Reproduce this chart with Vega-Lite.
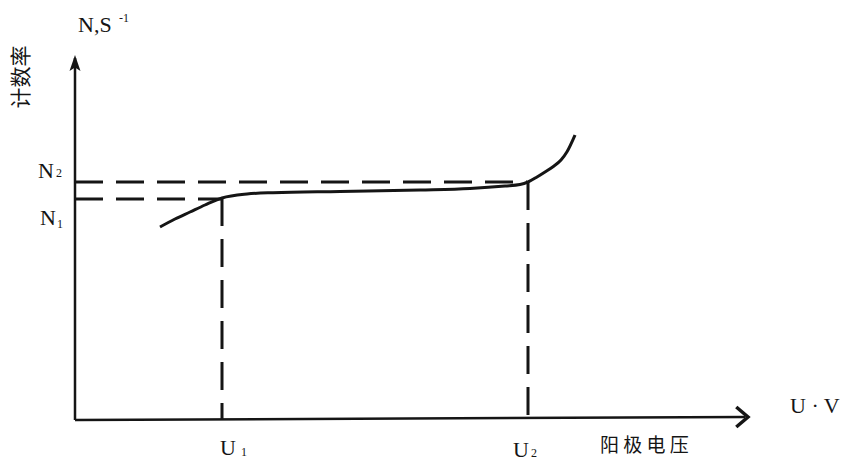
{
  "$schema": "https://vega.github.io/schema/vega-lite/v6.json",
  "width": 675,
  "height": 365,
  "autosize": {"type": "none"},
  "padding": {"left": 75, "top": 55, "right": 100, "bottom": 48},
  "background": "white",
  "config": {"view": {"stroke": null}},
  "datasets": {
    "curve": [
      {"u": 85, "n": 193}, {"u": 100, "n": 201}, {"u": 115, "n": 208},
      {"u": 130, "n": 215}, {"u": 147, "n": 222}, {"u": 172, "n": 226},
      {"u": 198, "n": 227.3}, {"u": 265, "n": 228.5}, {"u": 345, "n": 230},
      {"u": 395, "n": 231.5}, {"u": 430, "n": 234}, {"u": 445, "n": 235.5},
      {"u": 453, "n": 238}, {"u": 462, "n": 243}, {"u": 470, "n": 248},
      {"u": 478, "n": 253.3}, {"u": 486, "n": 260}, {"u": 492, "n": 268.3},
      {"u": 500, "n": 285}
    ],
    "axes": [
      {"x": 0, "y": 0, "x2": 0, "y2": 362},
      {"x": 0, "y": 0, "x2": 670, "y2": 3}
    ],
    "guides": [
      {"x": 0, "y": 238, "x2": 452, "y2": 238},
      {"x": 0, "y": 221, "x2": 147, "y2": 221},
      {"x": 147, "y": 222, "x2": 147, "y2": 0.5},
      {"x": 453, "y": 238, "x2": 453, "y2": 1.5}
    ],
    "yArrow": [{"x": 0, "y": 355}],
    "xArrow": [{"x": 673, "y": 3}],
    "labels": [
      {"t": "N", "x": -37, "y": 242},
      {"t": "N", "x": -35, "y": 195},
      {"t": "U", "x": 145, "y": -35},
      {"t": "U", "x": 438, "y": -37},
      {"t": "U · V", "x": 715, "y": 7},
      {"t": "N,S", "x": 3, "y": 388}
    ],
    "subs": [
      {"t": "2", "x": -19, "y": 243},
      {"t": "1", "x": -18, "y": 192},
      {"t": "1", "x": 166, "y": -36},
      {"t": "2", "x": 456, "y": -37},
      {"t": "-1", "x": 44, "y": 398}
    ],
    "xTitle": [{"t": "阳 极 电 压", "x": 525, "y": -32}],
    "yTitle": [{"t": "计数率", "x": -53, "y": 343}]
  },
  "data": {"name": "curve"},
  "layer": [
    {
      "data": {"name": "axes"},
      "mark": {"type": "rule", "color": "#151515", "strokeWidth": 2.5},
      "encoding": {
        "x": {"field": "x", "type": "quantitative", "scale": {"domain": [0, 675], "nice": false, "zero": false}, "axis": null},
        "y": {"field": "y", "type": "quantitative", "scale": {"domain": [0, 365], "nice": false, "zero": false}, "axis": null},
        "x2": {"field": "x2"},
        "y2": {"field": "y2"}
      }
    },
    {
      "data": {"name": "guides"},
      "mark": {"type": "rule", "color": "#151515", "strokeWidth": 3, "strokeDash": [28, 13]},
      "encoding": {
        "x": {"field": "x", "type": "quantitative"},
        "y": {"field": "y", "type": "quantitative"},
        "x2": {"field": "x2"},
        "y2": {"field": "y2"}
      }
    },
    {
      "mark": {"type": "line", "color": "#151515", "strokeWidth": 3, "interpolate": "monotone"},
      "encoding": {
        "x": {"field": "u", "type": "quantitative"},
        "y": {"field": "n", "type": "quantitative"}
      }
    },
    {
      "data": {"name": "yArrow"},
      "mark": {"type": "point", "shape": "M0,-1L0.55,0.6L0,0.25L-0.55,0.6Z", "filled": true, "color": "#151515", "size": 400, "opacity": 1},
      "encoding": {
        "x": {"field": "x", "type": "quantitative"},
        "y": {"field": "y", "type": "quantitative"}
      }
    },
    {
      "data": {"name": "xArrow"},
      "mark": {"type": "point", "shape": "M-1,-0.85L0,0L-1,0.85", "filled": false, "color": "#151515", "strokeWidth": 3.5, "size": 550, "opacity": 1},
      "encoding": {
        "x": {"field": "x", "type": "quantitative"},
        "y": {"field": "y", "type": "quantitative"}
      }
    },
    {
      "data": {"name": "labels"},
      "mark": {"type": "text", "font": "Liberation Serif", "fontSize": 22, "color": "#151515", "align": "left", "baseline": "alphabetic"},
      "encoding": {
        "x": {"field": "x", "type": "quantitative"},
        "y": {"field": "y", "type": "quantitative"},
        "text": {"field": "t"}
      }
    },
    {
      "data": {"name": "subs"},
      "mark": {"type": "text", "font": "Liberation Serif", "fontSize": 12, "color": "#151515", "align": "left", "baseline": "alphabetic"},
      "encoding": {
        "x": {"field": "x", "type": "quantitative"},
        "y": {"field": "y", "type": "quantitative"},
        "text": {"field": "t"}
      }
    },
    {
      "data": {"name": "xTitle"},
      "mark": {"type": "text", "font": "Noto Sans CJK SC", "fontSize": 19, "color": "#151515", "align": "left", "baseline": "alphabetic"},
      "encoding": {
        "x": {"field": "x", "type": "quantitative"},
        "y": {"field": "y", "type": "quantitative"},
        "text": {"field": "t"}
      }
    },
    {
      "data": {"name": "yTitle"},
      "mark": {"type": "text", "font": "Noto Sans CJK SC", "fontSize": 21, "color": "#151515", "align": "center", "baseline": "middle", "angle": 270},
      "encoding": {
        "x": {"field": "x", "type": "quantitative"},
        "y": {"field": "y", "type": "quantitative"},
        "text": {"field": "t"}
      }
    }
  ]
}
